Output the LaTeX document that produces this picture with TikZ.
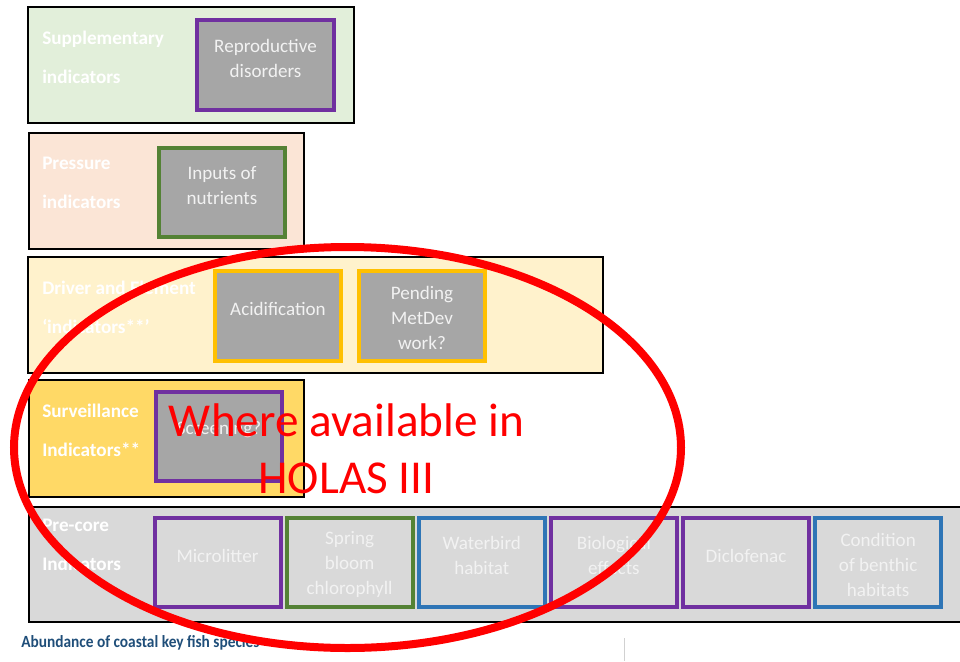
\documentclass[tikz,border=0pt]{standalone}
\usepackage{fontspec}
\setmainfont{Carlito}
\newfontfamily\capfont[FakeStretch=0.9]{Carlito}
\usetikzlibrary{positioning}
\definecolor{suppfill}{HTML}{E2EFDA}
\definecolor{pressfill}{HTML}{FBE5D6}
\definecolor{drivefill}{HTML}{FFF2CC}
\definecolor{survfill}{HTML}{FFD966}
\definecolor{prefill}{HTML}{D9D9D9}
\definecolor{boxgray}{HTML}{A6A6A6}
\definecolor{boxtext}{HTML}{F2F2F2}
\definecolor{ipurple}{HTML}{7030A0}
\definecolor{igreen}{HTML}{548235}
\definecolor{iorange}{HTML}{FFC000}
\definecolor{iblue}{HTML}{2E75B6}
\definecolor{capblue}{HTML}{1F4E79}

\begin{document}
\begin{tikzpicture}[x=0.75pt, y=-0.75pt,
  row/.style = {draw, line width=1.5pt, anchor=north west, inner sep=0pt},
  ind/.style = {draw=#1, line width=3pt, fill=boxgray, inner sep=0pt,
                minimum width=126*0.75pt, minimum height=89*0.75pt},
  itxt/.style = {text=boxtext, align=center, yshift=5.25pt,
                 font=\fontsize{14.3pt}{18.75pt}\selectfont},
  lbl/.style = {text=white, align=left, anchor=west, inner sep=0pt,
                font=\bfseries\fontsize{14.4pt}{29.25pt}\selectfont}]
\useasboundingbox (0,0) rectangle (960,661);
\begin{scope}
    \node[row, fill=suppfill, minimum width=326*0.75pt, minimum height=116*0.75pt] (supp) at (27,6) {};
    \node[row, fill=pressfill, minimum width=275*0.75pt, minimum height=116*0.75pt] (press) at (28,132) {};
    \node[row, fill=drivefill, minimum width=575*0.75pt, minimum height=116*0.75pt] (drive) at (27,256) {};
    \node[row, fill=survfill, minimum width=275*0.75pt, minimum height=117*0.75pt] (surv) at (28,379) {};
    \node[row, fill=prefill, minimum width=950*0.75pt, minimum height=115*0.75pt] (pre) at (28,506) {};
\end{scope}
\begin{scope}
    \node[lbl] (supplab) at (42,57.5) {Supplementary\\indicators};
    \node[lbl] (presslab) at (42,182.5) {Pressure\\indicators};
    \node[lbl] (drivelab) at (42,307) {Driver and Element\\‘indicators**’};
    \node[lbl] (survlab) at (42,430) {Surveillance\\Indicators**};
    \node[lbl] (prelab) at (42,544.5) {Pre-core\\Indicators};
\end{scope}
\begin{scope}
    \node[ind=ipurple, minimum width=137*0.75pt, minimum height=90*0.75pt,
          label={[itxt]center:{Reproductive\\disorders}}] (repro) at (265.5,65) {};
    \node[ind=igreen, label={[itxt]center:{Inputs of\\nutrients}}] (nutr) at (222,192.5) {};
    \node[ind=iorange, minimum height=90*0.75pt, label={[itxt]center:{Acidification}}] (acid) at (278,316) {};
    \node[ind=iorange, minimum height=90*0.75pt,
          label={[itxt, yshift=-6.75pt]center:{Pending\\MetDev\\work?}}] (metdev) at (422,316) {};
    \node[ind=ipurple, label={[itxt]center:{Screening?}}] (screen) at (219,436.5) {};
\end{scope}
\begin{scope}
    \node[ind=ipurple, fill=prefill, label={[itxt]center:{Microlitter}}] (micro) at (217.5,562.5) {};
    \node[ind=igreen, fill=prefill, right=1.6pt of micro,
          label={[itxt, yshift=-6.75pt]center:{Spring\\bloom\\chlorophyll}}] (spring) {};
    \node[ind=iblue, fill=prefill, right=1.6pt of spring,
          label={[itxt]center:{Waterbird\\habitat}}] (bird) {};
    \node[ind=ipurple, fill=prefill, right=1.6pt of bird,
          label={[itxt]center:{Biological\\effects}}] (bio) {};
    \node[ind=ipurple, fill=prefill, right=1.6pt of bio,
          label={[itxt]center:{Diclofenac}}] (diclo) {};
    \node[ind=iblue, fill=prefill, right=1.6pt of diclo,
          label={[itxt, yshift=-6.75pt]center:{Condition\\of benthic\\habitats}}] (benth) {};
\end{scope}
\node[anchor=west, inner sep=0pt, text=capblue, font=\capfont\bfseries\fontsize{12.8pt}{15pt}\selectfont] (abund) at (21,643) {Abundance of coastal key fish species};
\draw[line width=0.75pt, black!18] (624,638) -- (624,661);
\draw[red, line width=6pt] (347.5,447.5) ellipse [x radius=333.5, y radius=200.5];
\node[text=red, align=center, font=\fontsize{35.4pt}{42.75pt}\selectfont] (holas) at (346.5,448.5) {Where available in\\HOLAS III};
\end{tikzpicture}
\end{document}
